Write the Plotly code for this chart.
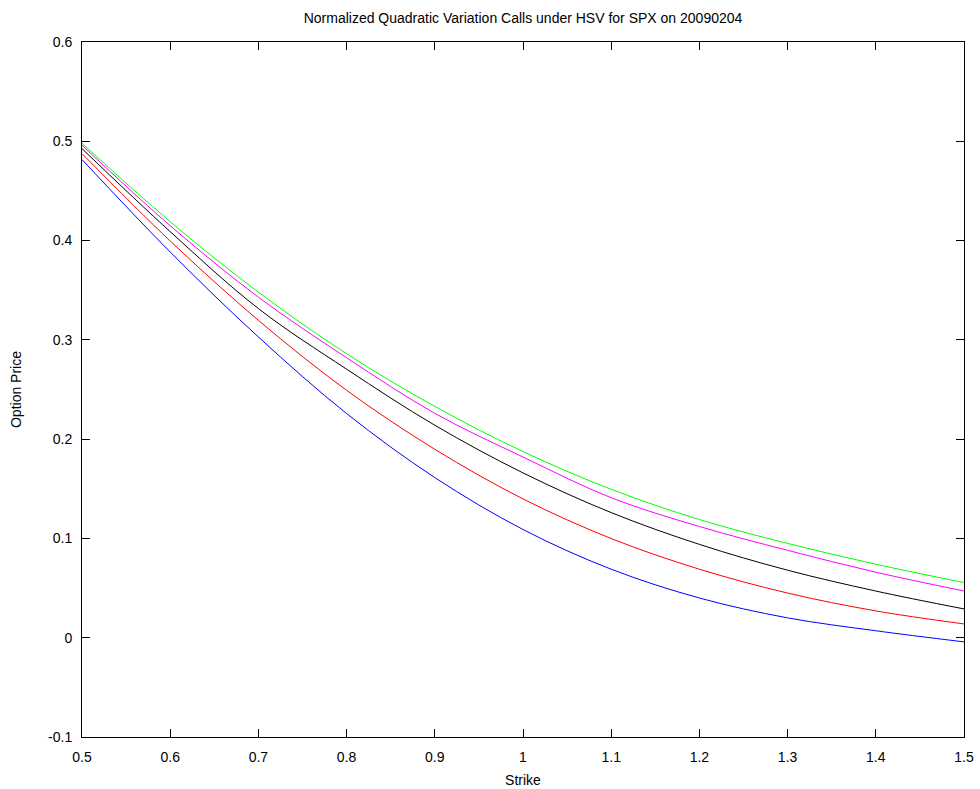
import plotly.graph_objects as go

strike = [0.5, 0.6, 0.7, 0.8, 0.9, 1.0, 1.1, 1.2, 1.3, 1.4, 1.5]
green = [0.498, 0.419, 0.348, 0.286, 0.233, 0.1875, 0.1495, 0.119, 0.095, 0.074, 0.0556]
magenta = [0.496, 0.415, 0.343, 0.282, 0.226, 0.182, 0.141, 0.112, 0.088, 0.066, 0.047]
black = [0.4926, 0.409, 0.3315, 0.2705, 0.214, 0.166, 0.126, 0.094, 0.068, 0.047, 0.029]
red = [0.4876, 0.3996, 0.3197, 0.2492, 0.1898, 0.1398, 0.0999, 0.069, 0.045, 0.027, 0.0139]
blue = [0.4816, 0.3885, 0.3029, 0.2258, 0.1613, 0.109, 0.069, 0.040, 0.020, 0.007, -0.0042]

xticks = [0.5, 0.6, 0.7, 0.8, 0.9, 1.0, 1.1, 1.2, 1.3, 1.4, 1.5]
xticklabels = ["0.5", "0.6", "0.7", "0.8", "0.9", "1", "1.1", "1.2", "1.3", "1.4", "1.5"]
yticks = [-0.1, 0.0, 0.1, 0.2, 0.3, 0.4, 0.5, 0.6]
yticklabels = ["-0.1", "0", "0.1", "0.2", "0.3", "0.4", "0.5", "0.6"]

series = [
    ("green", green, "#00ff00"),
    ("magenta", magenta, "#ff00ff"),
    ("black", black, "#000000"),
    ("red", red, "#ff0000"),
    ("blue", blue, "#0000ff"),
]

fig = go.Figure()
for name, vals, col in series:
    fig.add_trace(go.Scatter(x=strike, y=vals, mode="lines", name=name,
                             line=dict(color=col, width=1, shape="spline", smoothing=1.0),
                             showlegend=False))

font_family = "Liberation Sans, Arial, Helvetica, sans-serif"
axis_common = dict(
    showgrid=False, zeroline=False, showline=True, linecolor="black", linewidth=1,
    mirror="ticks", ticks="inside", ticklen=8, tickwidth=1, tickcolor="black",
    automargin=False,
    tickfont=dict(family=font_family, size=14, color="black"),
)

W, H = 980, 789
fig.update_layout(
    width=W, height=H,
    paper_bgcolor="white", plot_bgcolor="white",
    margin=dict(l=82, r=16, t=42, b=52, pad=0),
    font=dict(family=font_family, size=14, color="black"),
    title=dict(text="Normalized Quadratic Variation Calls under HSV for SPX on 20090204",
               x=0.5, xref="paper", xanchor="center",
               y=1 - 18 / H, yref="container", yanchor="middle",
               font=dict(family=font_family, size=14, color="black")),
    xaxis=dict(range=[0.5, 1.5], tickvals=xticks, ticktext=xticklabels,
               title=dict(text="Strike", standoff=11, font=dict(family=font_family, size=14)),
               ticklabelstandoff=7, **axis_common),
    yaxis=dict(range=[-0.1, 0.6], tickvals=yticks, ticktext=yticklabels,
               title=dict(text="Option Price", standoff=23, font=dict(family=font_family, size=14)),
               ticklabelstandoff=6, **axis_common),
)

fig.write_html("out.html", config={"displayModeBar": False},
               post_script="document.body.style.margin='0';")
